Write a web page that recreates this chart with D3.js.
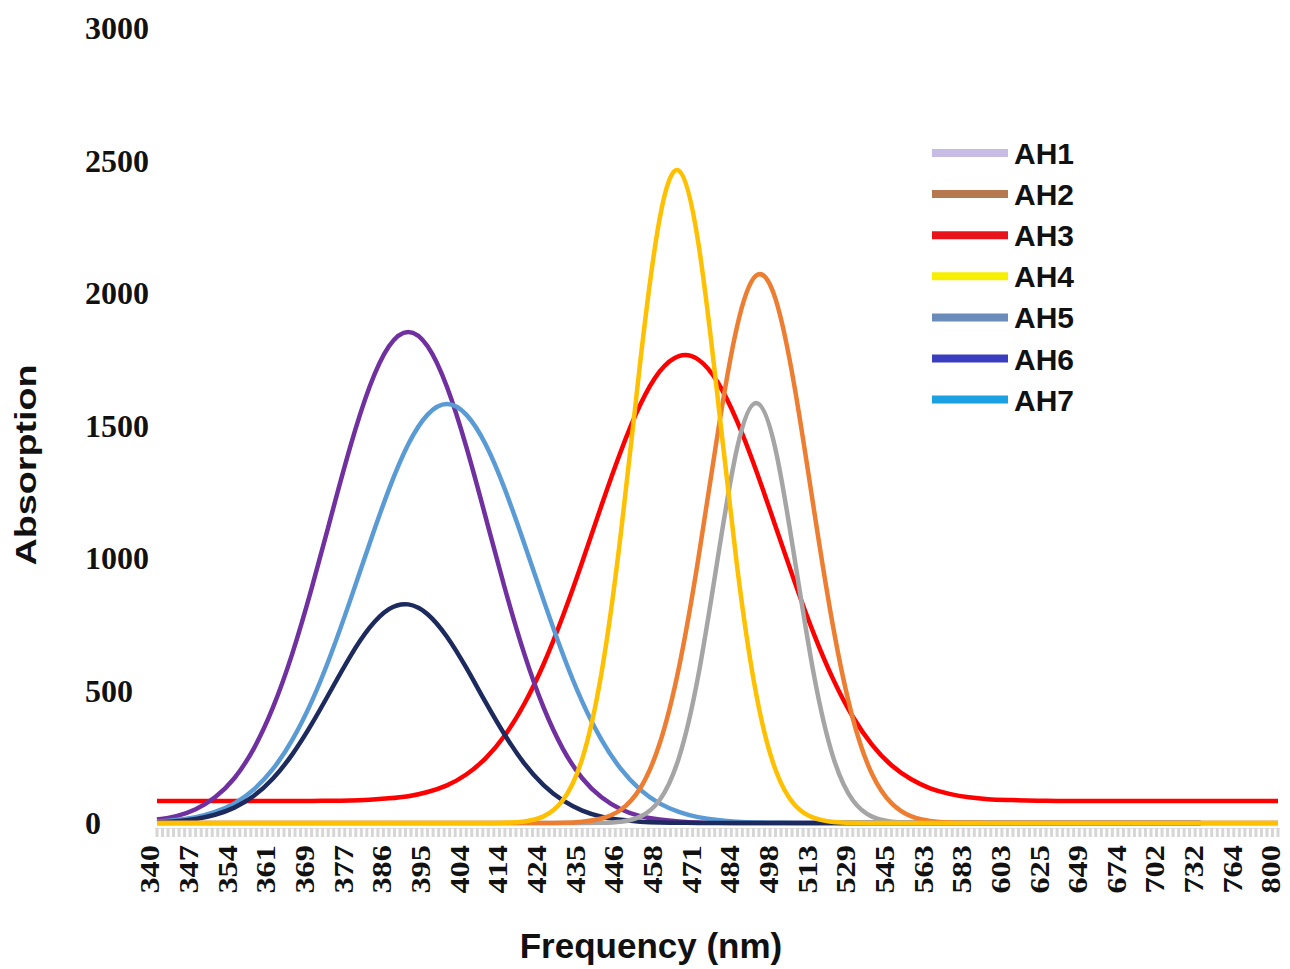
<!DOCTYPE html>
<html>
<head>
<meta charset="utf-8">
<script src="https://cdn.jsdelivr.net/npm/d3@7"></script>
<style>
  body { margin: 0; background: #fff; }
  svg { display: block; }
</style>
</head>
<body>
<div id="chart"></div>
<script>
// category labels on the x axis (nm), one every 7 categories
const tickLabels = [340, 347, 354, 361, 369, 377, 386, 395, 404, 414, 424, 435, 446, 458, 471,
                    484, 498, 513, 529, 545, 563, 583, 603, 625, 649, 674, 702, 732, 764, 800];
const yTicks = [0, 500, 1000, 1500, 2000, 2500, 3000];

// values at every half label step (59 samples)
const ah1 = [13, 26, 52, 97, 169, 280, 436, 639, 885, 1155, 1420, 1646, 1799, 1853, 1799, 1646, 1420, 1155, 885, 639,
             436, 280, 169, 97, 52, 26, 13, 6, 2, 1, 0, 0, 0, 0, 0, 0, 0, 0, 0, 0,
             0, 0, 0, 0, 0, 0, 0, 0, 0, 0, 0, 0, 0, 0, 0, null, null, null, null];
const ah2 = [0, 0, 0, 0, 0, 0, 0, 0, 0, 0, 0, 0, 0, 0, 0, 0, 0, 0, 0, 0,
             0, 1, 5, 17, 50, 131, 298, 585, 994, 1465, 1870, 2066, 1978, 1640, 1178, 733, 395, 184, 75, 26,
             8, 2, 1, 0, 0, 0, 0, 0, 0, 0, 0, 0, 0, 0, 0, 0, 0, 0, 0];
const ah3 = [83, 83, 83, 83, 83, 83, 83, 83, 83, 84, 85, 88, 93, 101, 117, 142, 183, 244, 331, 449,
             599, 781, 985, 1199, 1403, 1578, 1703, 1762, 1749, 1664, 1518, 1330, 1120, 908, 711, 540, 401, 295, 218, 166,
             131, 110, 97, 90, 87, 85, 84, 83, 83, 83, 83, 83, 83, 83, 83, 83, 83, 83, 83];
const ah4 = [0, 0, 0, 0, 0, 0, 0, 0, 0, 0, 0, 0, 0, 0, 0, 0, 0, 0, 1, 6,
             25, 86, 242, 567, 1093, 1738, 2278, 2462, 2193, 1611, 976, 487, 201, 68, 19, 4, 1, 0, 0, 0,
             0, 0, 0, 0, 0, 0, 0, 0, 0, 0, 0, 0, 0, 0, 0, 0, 0, 0, 0];
const ah5 = [0, 0, 0, 0, 0, 0, 0, 0, 0, 0, 0, 0, 0, 0, 0, 0, 0, 0, 0, 0,
             0, 0, 0, 1, 5, 24, 86, 245, 554, 993, 1410, 1585, 1410, 993, 554, 245, 86, 24, 5, 1,
             0, 0, 0, 0, 0, 0, 0, 0, 0, 0, 0, 0, 0, 0, 0, 0, 0, 0, 0];
const ah6 = [3, 7, 15, 31, 58, 102, 168, 259, 373, 501, 629, 737, 807, 825, 788, 703, 586, 456, 332, 225,
             143, 85, 47, 24, 12, 5, 2, 1, 0, 0, 0, 0, 0, 0, 0, 0, 0, 0, 0, 0,
             0, 0, 0, 0, 0, 0, 0, 0, 0, 0, 0, 0, 0, 0, 0, null, null, null, null];
const ah7 = [5, 11, 22, 42, 74, 126, 204, 314, 458, 637, 841, 1055, 1259, 1429, 1541, 1581, 1541, 1429, 1259, 1055,
             841, 637, 458, 314, 204, 126, 74, 42, 22, 11, 5, 2, 1, 0, 0, 0, 0, 0, 0, 0,
             0, 0, 0, 0, 0, 0, 0, 0, 0, 0, 0, 0, 0, 0, 0, null, null, null, null];

const seriesNames = ["AH1", "AH2", "AH3", "AH4", "AH5", "AH6", "AH7"];
const seriesValues = [ah1, ah2, ah3, ah4, ah5, ah6, ah7];
const lineColors = ["#7030a0", "#ed7d31", "#ff0000", "#ffc000", "#a5a5a5", "#1c2a5e", "#5b9bd5"];
const legendColors = ["#c7bce4", "#b5784f", "#e8141c", "#f7ef00", "#6b8bb8", "#3a3dbd", "#1ba1e2"];
// drawing order, bottom first
const drawOrder = [2, 0, 6, 5, 4, 1, 3];

const width = 1290, height = 969;
const svg = d3.select("#chart").append("svg")
    .attr("width", width)
    .attr("height", height);

const x = d3.scaleLinear().domain([0, tickLabels.length - 1]).range([157, 1278]);
const y = d3.scaleLinear().domain([0, 3000]).range([823, 28]);

// y labels, left aligned, no axis line
svg.append("g").selectAll("text")
    .data(yTicks)
    .enter().append("text")
    .attr("x", 85)
    .attr("y", d => y(d) + 11)
    .attr("font-family", "'Liberation Serif', 'Times New Roman', serif")
    .attr("font-weight", "bold")
    .attr("font-size", 32)
    .attr("fill", "#111")
    .text(d => d);

// grey category ticks
const minor = d3.range(0, (tickLabels.length - 1) * 7 + 1).map(i => i / 7);
svg.append("line")
    .attr("x1", x(0) - 2).attr("x2", x(tickLabels.length - 1) + 2)
    .attr("y1", 828.5).attr("y2", 828.5)
    .attr("stroke", "#e4e4e4");
svg.append("g").selectAll("rect")
    .data(minor)
    .enter().append("rect")
    .attr("x", d => x(d) - 1.5)
    .attr("y", 828)
    .attr("width", 3)
    .attr("height", 9)
    .attr("fill", "#d6d6d6");

// x labels, rotated
svg.append("g").selectAll("text")
    .data(tickLabels)
    .enter().append("text")
    .attr("transform", (d, i) => `translate(${x(i) - 7},845) rotate(-90) scale(1.2,1)`)
    .attr("dy", "0.35em")
    .attr("text-anchor", "end")
    .attr("font-family", "'Liberation Serif', 'Times New Roman', serif")
    .attr("font-weight", "bold")
    .attr("font-size", 27)
    .attr("fill", "#111")
    .text(d => d);

// series lines
const line = d3.line()
    .defined(d => d != null)
    .x((d, i) => x(i / 2))
    .y(d => y(d))
    .curve(d3.curveNatural);

drawOrder.forEach(s => {
    svg.append("path")
        .datum(seriesValues[s])
        .attr("fill", "none")
        .attr("stroke", lineColors[s])
        .attr("stroke-width", 4.5)
        .attr("stroke-linejoin", "round")
        .attr("d", line);
});

// legend
const legend = svg.append("g");
seriesNames.forEach((name, i) => {
    const cy = 153 + i * 41.1;
    legend.append("line")
        .attr("x1", 932).attr("x2", 1008)
        .attr("y1", cy).attr("y2", cy)
        .attr("stroke", legendColors[i])
        .attr("stroke-width", 8);
    legend.append("text")
        .attr("x", 1014)
        .attr("y", cy + 11)
        .attr("font-family", "'Liberation Sans', Arial, sans-serif")
        .attr("font-weight", "bold")
        .attr("font-size", 30)
        .attr("fill", "#111")
        .text(name);
});

// axis titles
svg.append("text")
    .attr("x", 651)
    .attr("y", 958)
    .attr("text-anchor", "middle")
    .attr("font-family", "'Liberation Sans', Arial, sans-serif")
    .attr("font-weight", "bold")
    .attr("font-size", 35)
    .attr("fill", "#111")
    .text("Frequency (nm)");

svg.append("text")
    .attr("transform", "translate(36,465) rotate(-90) scale(1.3,1)")
    .attr("text-anchor", "middle")
    .attr("font-family", "'Liberation Sans', Arial, sans-serif")
    .attr("font-weight", "bold")
    .attr("font-size", 29)
    .attr("fill", "#111")
    .text("Absorption");
</script>
</body>
</html>
